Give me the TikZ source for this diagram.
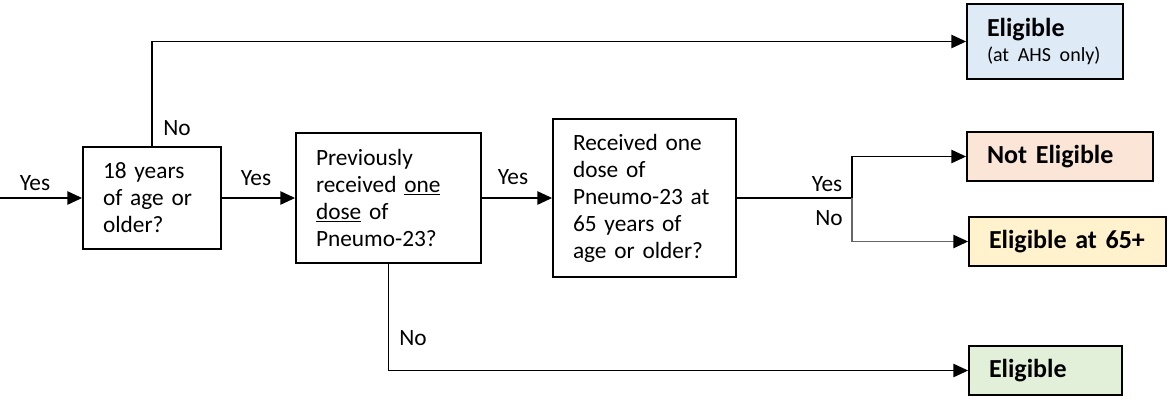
\documentclass[tikz,border=0pt]{standalone}
\usepackage{fontspec}
\setmainfont{Carlito}
\usetikzlibrary{arrows.meta}
\definecolor{ahsblue}{HTML}{DEEBF7}
\definecolor{noorange}{HTML}{FBE5D6}
\definecolor{oldyellow}{HTML}{FFF2CC}
\definecolor{okgreen}{HTML}{E2F0D9}

\begin{document}
\begin{tikzpicture}[x=0.75pt,y=-0.75pt,
    q/.style={draw,line width=1.4pt,inner xsep=15pt,align=left,font=\fontsize{17.5}{20.25}\selectfont},
    res/.style={q,font=\fontsize{19.5}{20.25}\selectfont\bfseries},
    lbl/.style={font=\fontsize{17.5}{20.25}\selectfont},
    arr/.style={line width=1pt,-{Triangle[length=11pt,width=10pt,color=black]}}]
  \useasboundingbox (0,0) rectangle (1169,401);
  \node[q,minimum width=103.5pt,minimum height=76.5pt,text width=73.5pt] (Q1) at (152,198) {18 years\\of age or\\older?};
  \node[q,minimum width=138.75pt,minimum height=97.5pt,text width=108.75pt] (Q2) at (388.5,198) {Previously\\received \underline{one}\\\underline{dose} of\\Pneumo-23?};
  \node[q,minimum width=137.25pt,minimum height=118.5pt,text width=107.25pt] (Q3) at (644.5,198) {Received one\\dose of\\Pneumo-23 at\\65 years of\\age or older?};
  \node[res,fill=ahsblue,minimum width=117pt,minimum height=56.25pt,text width=87pt] (AHS) at (1045,41.5) {Eligible\\[-1pt]{\mdseries\fontsize{15}{20.25}\selectfont(at AHS only)}};
  \node[res,fill=noorange,minimum width=139.5pt,minimum height=36.75pt,text width=109.5pt] (NE) at (1060,156.5) {Not Eligible};
  \node[res,fill=oldyellow,minimum width=147.75pt,minimum height=36.75pt,text width=117.75pt] (E65) at (1067.5,241.5) {Eligible at 65+};
  \node[res,fill=okgreen,minimum width=114.75pt,minimum height=36.75pt,text width=84.75pt] (E) at (1045.5,370.5) {Eligible};
  \coordinate (in) at (0,198);
  \coordinate (br) at (852,198);
  \draw[arr] (in) -- (Q1);
  \draw[arr] (Q1.north) |- (AHS);
  \draw[arr] (Q1) -- (Q2);
  \draw[arr] (Q2) -- (Q3);
  \draw[line width=1pt] (Q3) -- (br);
  \draw[arr] (br) |- (NE);
  \draw[arr,black!60] (br) |- (E65);
  \draw[arr] (Q2.south) |- (E);
  \node[lbl] (y0) at (35,183) {Yes};
  \node[lbl] (n1) at (177,128) {No};
  \node[lbl] (y1) at (256,178) {Yes};
  \node[lbl] (y2) at (513,177) {Yes};
  \node[lbl] (n2) at (413,338) {No};
  \node[lbl] (y3) at (827,184) {Yes};
  \node[lbl] (n3) at (829,218) {No};
\end{tikzpicture}
\end{document}
